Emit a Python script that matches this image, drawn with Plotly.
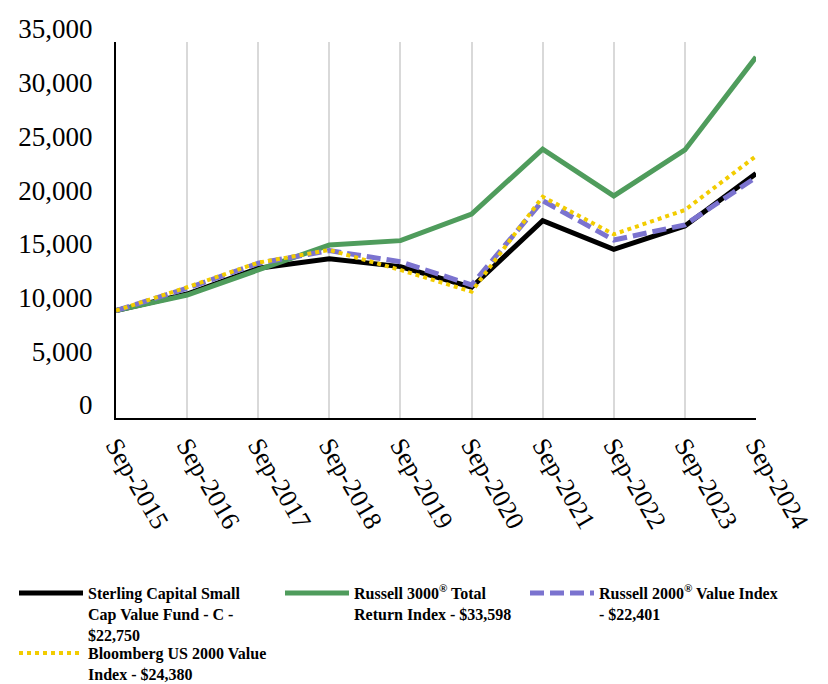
import plotly.graph_objects as go

dates = ["Sep-2015", "Sep-2016", "Sep-2017", "Sep-2018", "Sep-2019",
         "Sep-2020", "Sep-2021", "Sep-2022", "Sep-2023", "Sep-2024"]

fund_c = [10000, 11540, 13940, 14830, 14090, 12170, 18370, 15700, 17880, 22750]
russell_3000 = [10000, 11450, 13780, 16100, 16510, 18990, 25020, 20670, 24950, 33598]
russell_2000v = [10000, 12070, 14400, 15580, 14550, 12380, 20230, 16570, 17970, 22401]
bloomberg_2000v = [10000, 12170, 14460, 15640, 13780, 11760, 20600, 17100, 19360, 24380]

names = [
    "Sterling Capital Small<br>Cap Value Fund - C -<br>$22,750",
    "Russell 3000<sup>®</sup> Total<br>Return Index - $33,598",
    "Russell 2000<sup>®</sup> Value Index<br>- $22,401",
    "Bloomberg US 2000 Value<br>Index - $24,380",
]

yticks = [0, 5000, 10000, 15000, 20000, 25000, 30000, 35000]
ytick_text = ["0", "5,000", "10,000", "15,000", "20,000", "25,000", "30,000", "35,000"]

fig = go.Figure()
fig.add_trace(go.Scatter(x=dates, y=fund_c, name=names[0], mode="lines", legend="legend",
                         line=dict(color="#000000", width=5)))
fig.add_trace(go.Scatter(x=dates, y=russell_3000, name=names[1], mode="lines", legend="legend2",
                         line=dict(color="#4f9c5c", width=5)))
fig.add_trace(go.Scatter(x=dates, y=russell_2000v, name=names[2], mode="lines", legend="legend3",
                         line=dict(color="#7b73cf", width=5, dash="14px,6px")))
fig.add_trace(go.Scatter(x=dates, y=bloomberg_2000v, name=names[3], mode="lines", legend="legend4",
                         line=dict(color="#f2cc00", width=4, dash="4px,4px")))

legend_font = dict(family="Liberation Serif, Times New Roman, serif", size=16,
                   color="#000000", weight="bold")
plot_l, plot_w, plot_b, plot_h = 116, 640, 418, 376


def legend_at(left_px, top_px):
    return dict(
        x=(left_px - plot_l) / plot_w, xanchor="left",
        y=-(top_px - plot_b) / plot_h, yanchor="top",
        font=legend_font, itemwidth=64, valign="top",
        bgcolor="rgba(0,0,0,0)",
    )


fig.update_layout(
    width=828, height=684,
    margin=dict(l=plot_l, r=828 - plot_l - plot_w, t=42, b=684 - plot_b, autoexpand=False),
    paper_bgcolor="white", plot_bgcolor="white",
    font=dict(family="Liberation Serif, Times New Roman, serif", color="#000000"),
    xaxis=dict(
        type="category", range=[0, 9], automargin=False,
        showgrid=True, gridcolor="#d9d9d9", gridwidth=1.5,
        showline=True, linecolor="#000000", linewidth=2,
        tickangle=60, tickfont=dict(size=26),
        ticks="", zeroline=False,
    ),
    yaxis=dict(
        range=[0, 35000], tickvals=yticks, ticktext=ytick_text, automargin=False,
        showgrid=False, showline=True, linecolor="#000000", linewidth=2,
        tickfont=dict(size=27), ticks="", zeroline=False,
        ticklabelshift=-13, ticklabelstandoff=16,
    ),
    legend=legend_at(14, 576),
    legend2=legend_at(280, 576),
    legend3=legend_at(525, 576),
    legend4=legend_at(14, 636),
    showlegend=True,
)

fig.write_html("out.html", config={"displayModeBar": False},
               post_script="document.body.style.margin='0';")
